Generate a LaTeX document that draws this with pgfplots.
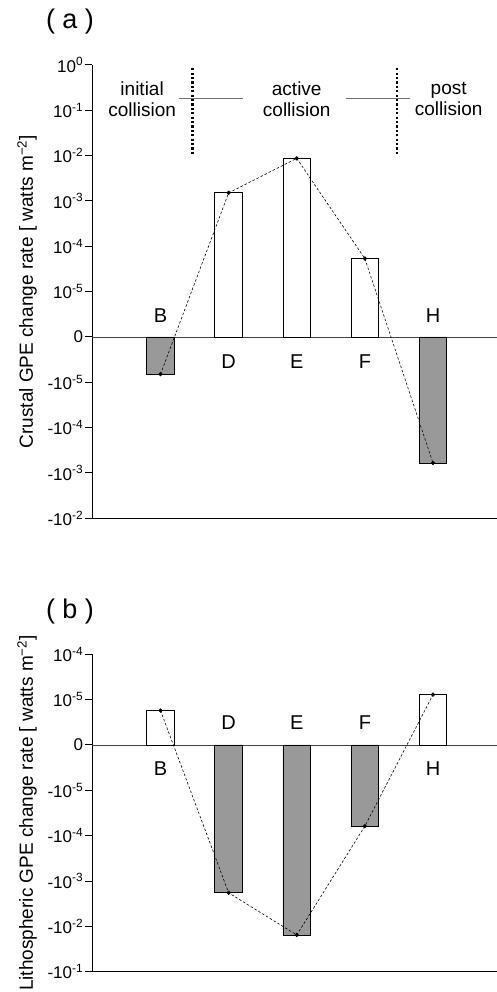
\documentclass[border=0pt]{standalone}
\usepackage{pgfplots}
\pgfplotsset{compat=1.18}
\usepackage{fontspec}
\setmainfont{Liberation Sans}
\definecolor{bargray}{RGB}{153,153,153}
\tikzset{
  lab/.style={font=\fontsize{20}{22}\selectfont},
  phase/.style={align=center, font=\fontsize{19}{21}\selectfont},
}
\pgfplotsset{
  panel/.style={
    scale only axis, width=404.6pt, xmin=0, xmax=5.94,
    axis lines=left, axis line style={-, line width=1.4pt},
    xtick=\empty, tick align=outside, major tick length=7pt,
    ytick style={line width=1pt, black},
    /pgf/number format/assume math mode=true,
    yticklabel style={font=\fontsize{17}{19}\selectfont, inner sep=2pt},
    every axis y label/.style={at={(axis description cs:-0.1616,0.5)}, rotate=90, anchor=center, font=\fontsize{19}{21}\selectfont},
    clip=false,
  },
  wbar/.style={ybar, bar width=0.404, bar shift=0pt, fill=white, draw=black, line width=0.8pt},
  gbar/.style={ybar, bar width=0.404, bar shift=0pt, fill=bargray, draw=black, line width=0.8pt},
  trend/.style={black, line width=0.6pt, dash pattern=on 2.5pt off 2pt, mark=*, mark size=1.8pt, mark options={solid, fill=black}},
}
\begin{document}
\begin{tikzpicture}
\path[use as bounding box] (0pt,0pt) rectangle (497pt,-992pt);
\begin{axis}[panel, at={(92.4pt,-65pt)}, anchor=north west, height=453.3pt,
  ymin=-4, ymax=6, ytick={-4,...,6},
  yticklabels={-10\textsuperscript{-2},-10\textsuperscript{-3},-10\textsuperscript{-4},-10\textsuperscript{-5},0,10\textsuperscript{-5},10\textsuperscript{-4},10\textsuperscript{-3},10\textsuperscript{-2},10\textsuperscript{-1},10\textsuperscript{0}},
  ylabel={Crustal GPE change rate [ watts m\textsuperscript{−2}]}]
\draw[black!75, line width=0.8pt] (axis cs:0,0) -- (axis cs:5.94,0);
\addplot[wbar] coordinates {(2,3.18) (3,3.94) (4,1.73)};
\addplot[gbar] coordinates {(1,-0.82) (5,-2.78)};
\addplot[trend] coordinates {(1,-0.82) (2,3.18) (3,3.94) (4,1.73) (5,-2.78)};
\node[lab] at (axis cs:1,0.48) {B};
\node[lab] at (axis cs:2,-0.54) {D};
\node[lab] at (axis cs:3,-0.54) {E};
\node[lab] at (axis cs:4,-0.54) {F};
\node[lab] at (axis cs:5,0.48) {H};
\draw[line width=2.2pt, dash pattern=on 2.2pt off 2.2pt] (axis cs:1.47,5.93) -- (axis cs:1.47,4.02);
\draw[line width=2.2pt, dash pattern=on 2.2pt off 2.2pt] (axis cs:4.47,5.93) -- (axis cs:4.47,4.02);
\draw[black!55, line width=1pt] (axis cs:1.27,5.25) -- (axis cs:2.21,5.25);
\draw[black!55, line width=1pt] (axis cs:3.73,5.25) -- (axis cs:4.66,5.25);
\node[phase] at (axis cs:0.73,5.24) {initial\\collision};
\node[phase] at (axis cs:3.0,5.24) {active\\collision};
\node[phase] at (axis cs:5.23,5.24) {post\\collision};
\end{axis}
\node[font=\fontsize{27}{29}\selectfont] at (70pt,-22pt) {( a )};

\begin{axis}[panel, at={(92.4pt,-654.3pt)}, anchor=north west, height=317.4pt,
  ymin=-5, ymax=2, ytick={-5,...,2},
  yticklabels={-10\textsuperscript{-1},-10\textsuperscript{-2},-10\textsuperscript{-3},-10\textsuperscript{-4},-10\textsuperscript{-5},0,10\textsuperscript{-5},10\textsuperscript{-4}},
  ylabel={Lithospheric GPE change rate [ watts m\textsuperscript{−2}]}]
\draw[black!75, line width=0.8pt] (axis cs:0,0) -- (axis cs:5.94,0);
\addplot[wbar] coordinates {(1,0.76) (5,1.11)};
\addplot[gbar] coordinates {(2,-3.26) (3,-4.19) (4,-1.79)};
\addplot[trend] coordinates {(1,0.76) (2,-3.26) (3,-4.19) (4,-1.79) (5,1.11)};
\node[lab] at (axis cs:1,-0.53) {B};
\node[lab] at (axis cs:2,0.49) {D};
\node[lab] at (axis cs:3,0.49) {E};
\node[lab] at (axis cs:4,0.49) {F};
\node[lab] at (axis cs:5,-0.53) {H};
\end{axis}
\node[font=\fontsize{27}{29}\selectfont] at (70pt,-612pt) {( b )};
\end{tikzpicture}
\end{document}
